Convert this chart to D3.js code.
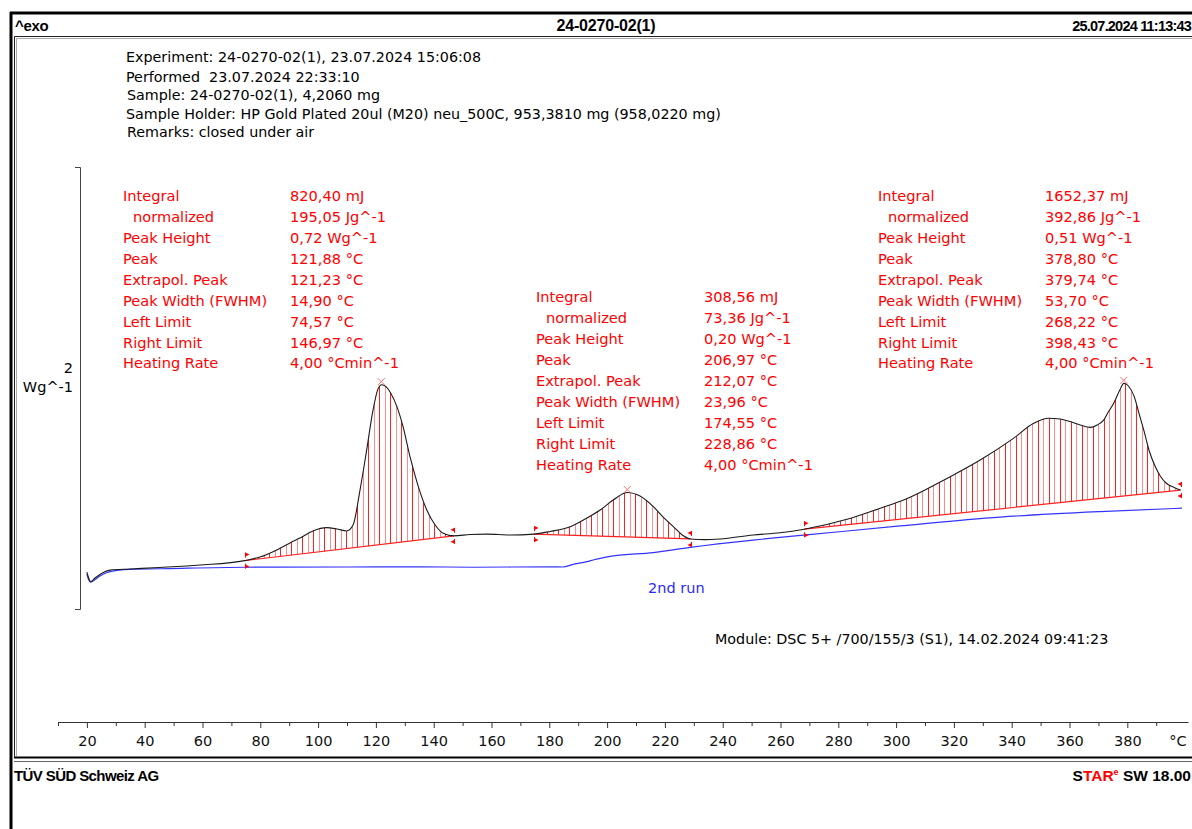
<!DOCTYPE html>
<html>
<head>
<meta charset="utf-8">
<script src="https://cdn.jsdelivr.net/npm/d3@7"></script>
<style>
  html, body { margin: 0; padding: 0; background: #fff; overflow: hidden; }
  svg { display: block; }
</style>
</head>
<body>
<svg id="chart" width="1192" height="829"></svg>
<script>
// ---------------- DATA ----------------
// 1st run (black) : temperature °C, heat flow W/g (arbitrary offset)
const tempRun1 = [20.0, 20.5, 21.3, 22.8, 24.5, 28.0, 34.9, 45.3, 59.1, 74.6, 79.9, 85.7, 90.3, 93.7, 98.2, 103.0, 106.5, 109.9, 112.1, 114.5, 116.8, 119.0, 120.7, 122.0, 123.5, 125.2, 127.2, 129.4, 131.8, 134.6, 137.6, 140.5, 143.3, 147.0, 152.6, 158.4, 166.4, 174.6, 180.3, 187.2, 192.4, 197.6, 202.1, 207.0, 211.4, 216.0, 219.4, 223.0, 226.0, 228.9, 233.9, 239.1, 250.5, 259.9, 268.2, 283.0, 294.5, 302.6, 317.6, 329.1, 340.6, 347.6, 352.7, 356.8, 360.3, 363.7, 367.2, 369.6, 371.8, 373.4, 375.3, 377.4, 378.8, 380.4, 382.4, 384.0, 386.0, 387.6, 389.7, 391.4, 393.5, 396.2, 398.4];
const dscRun1  = [0.167, 0.145, 0.124, 0.140, 0.156, 0.176, 0.181, 0.188, 0.199, 0.219, 0.235, 0.267, 0.299, 0.321, 0.353, 0.368, 0.362, 0.353, 0.380, 0.538, 0.719, 0.900, 0.995, 1.015, 1.006, 0.975, 0.918, 0.825, 0.689, 0.557, 0.448, 0.380, 0.343, 0.331, 0.337, 0.339, 0.335, 0.339, 0.351, 0.372, 0.407, 0.448, 0.493, 0.527, 0.511, 0.463, 0.416, 0.372, 0.335, 0.317, 0.314, 0.317, 0.335, 0.345, 0.361, 0.406, 0.456, 0.493, 0.591, 0.674, 0.772, 0.840, 0.863, 0.860, 0.848, 0.833, 0.822, 0.833, 0.855, 0.891, 0.931, 0.991, 1.021, 1.009, 0.961, 0.887, 0.795, 0.715, 0.644, 0.602, 0.569, 0.550, 0.538];

// 2nd run (blue)
const tempRun2 = [20.0, 20.5, 21.3, 22.8, 24.5, 28.0, 34.9, 48.7, 74.7, 111.0, 135.3, 153.6, 180.3, 184.8, 187.9, 193.0, 195.8, 197.6, 202.1, 215.9, 228.7, 250.5, 268.9, 301.4, 336.0, 370.6, 398.9];
const dscRun2  = [0.158, 0.136, 0.121, 0.133, 0.149, 0.169, 0.179, 0.183, 0.189, 0.190, 0.191, 0.189, 0.191, 0.190, 0.201, 0.214, 0.224, 0.229, 0.240, 0.255, 0.279, 0.312, 0.335, 0.376, 0.416, 0.441, 0.456];

// Peak evaluations
const peakLeftT   = [74.57, 174.55, 268.22];
const peakRightT  = [146.97, 228.86, 398.43];
const baseLeftV   = [0.219, 0.339, 0.361];
const baseRightV  = [0.331, 0.317, 0.538];
const peakT       = [121.88, 206.97, 378.80];
const peakV       = [1.015, 0.527, 1.021];

const resultLabels = ["Integral", "normalized", "Peak Height", "Peak", "Extrapol. Peak", "Peak Width (FWHM)", "Left Limit", "Right Limit", "Heating Rate"];
const resultPeak1 = ["820,40 mJ", "195,05 Jg^-1", "0,72 Wg^-1", "121,88 °C", "121,23 °C", "14,90 °C", "74,57 °C", "146,97 °C", "4,00 °Cmin^-1"];
const resultPeak2 = ["308,56 mJ", "73,36 Jg^-1", "0,20 Wg^-1", "206,97 °C", "212,07 °C", "23,96 °C", "174,55 °C", "228,86 °C", "4,00 °Cmin^-1"];
const resultPeak3 = ["1652,37 mJ", "392,86 Jg^-1", "0,51 Wg^-1", "378,80 °C", "379,74 °C", "53,70 °C", "268,22 °C", "398,43 °C", "4,00 °Cmin^-1"];

const infoLines = [
  "Experiment: 24-0270-02(1), 23.07.2024 15:06:08",
  "Performed  23.07.2024 22:33:10",
  "Sample: 24-0270-02(1), 4,2060 mg",
  "Sample Holder: HP Gold Plated 20ul (M20) neu_500C, 953,3810 mg (958,0220 mg)",
  "Remarks: closed under air"
];

const xMajorTicks = [20, 40, 60, 80, 100, 120, 140, 160, 180, 200, 220, 240, 260, 280, 300, 320, 340, 360, 380];
const xMinorTicks = [10, 30, 50, 70, 90, 110, 130, 150, 170, 190, 210, 230, 250, 270, 290, 310, 330, 350, 370, 390];
const scaleBarValue = 2;

// ---------------- DRAW ----------------
const svg = d3.select("#chart");
const FONT = "'DejaVu Sans', Verdana, sans-serif";
const BOLD = "'Liberation Sans', Arial, sans-serif";

svg.append("rect").attr("width", 1192).attr("height", 829).attr("fill", "#fff");

const x = d3.scaleLinear().domain([10, 401]).range([58, 1188]);
const y = d3.scaleLinear().domain([0, 2]).range([609, 167]);

// Frame
const frame = svg.append("g").attr("fill", "none");
frame.append("line").attr("x1", 11).attr("x2", 11).attr("y1", 12).attr("y2", 829).attr("stroke", "#000").attr("stroke-width", 3);
frame.append("line").attr("x1", 10).attr("x2", 1192).attr("y1", 13).attr("y2", 13).attr("stroke", "#000").attr("stroke-width", 3);
frame.append("path").attr("d", "M1192,36.5 H14.5 V757.5 H1192").attr("stroke", "#222").attr("stroke-width", 1);
frame.append("path").attr("d", "M1192,38.5 H16.5 V756").attr("stroke", "#aaa").attr("stroke-width", 1);
frame.append("line").attr("x1", 14).attr("x2", 1192).attr("y1", 757.5).attr("y2", 757.5).attr("stroke", "#000").attr("stroke-width", 2);
frame.append("line").attr("x1", 14).attr("x2", 1192).attr("y1", 761.5).attr("y2", 761.5).attr("stroke", "#666").attr("stroke-width", 1);

// Header
svg.append("text").attr("x", 15).attr("y", 30.5).text("^exo")
  .attr("font-family", BOLD).attr("font-weight", "bold").attr("font-size", 15).attr("letter-spacing", -0.3).attr("fill", "#000");
svg.append("text").attr("x", 606).attr("y", 30.5).attr("text-anchor", "middle").text("24-0270-02(1)")
  .attr("font-family", BOLD).attr("font-weight", "bold").attr("font-size", 16).attr("letter-spacing", -0.2).attr("fill", "#000");
svg.append("text").attr("x", 1191).attr("y", 30.5).attr("text-anchor", "end").text("25.07.2024 11:13:43")
  .attr("font-family", BOLD).attr("font-weight", "bold").attr("font-size", 14.5).attr("letter-spacing", -0.8).attr("fill", "#000");

// Info lines
const infoY = [57, 77, 95, 114, 132];
const infoX = [126, 126, 127, 126, 127];
svg.append("g").selectAll("text").data(infoLines).join("text")
  .attr("x", (d, i) => infoX[i]).attr("y", (d, i) => infoY[i]).attr("dy", "0.36em")
  .attr("font-family", FONT).attr("font-size", 14.3).attr("fill", "#000")
  .attr("xml:space", "preserve").style("white-space", "pre")
  .text(d => d);

// Scale bar (vertical)
const bar = svg.append("g").attr("stroke", "#444").attr("fill", "none");
bar.append("path").attr("d", `M75,${y(scaleBarValue) + 0.5} H80.5 V${y(0) + 0.5} H75`);
svg.append("text").attr("x", 73).attr("y", 368).attr("dy", "0.36em").attr("text-anchor", "end")
  .attr("font-family", FONT).attr("font-size", 14.5).text(String(scaleBarValue));
svg.append("text").attr("x", 73).attr("y", 387).attr("dy", "0.36em").attr("text-anchor", "end")
  .attr("font-family", FONT).attr("font-size", 14.5).text("Wg^-1");

// X axis
const axisY = 722;
const gAxis = svg.append("g").attr("transform", `translate(0,${axisY})`);
gAxis.call(d3.axisBottom(x).tickValues(xMajorTicks).tickSize(6).tickPadding(8).tickSizeOuter(0).tickFormat(d3.format("d")));
gAxis.append("g").call(d3.axisBottom(x).tickValues(xMinorTicks).tickSize(4).tickSizeOuter(0).tickFormat(""))
  .select(".domain").remove();
gAxis.selectAll(".domain").attr("stroke", "#333");
gAxis.selectAll(".tick line").attr("stroke", "#333");
gAxis.selectAll("text").attr("font-family", FONT).attr("font-size", 14.5).attr("fill", "#111");
gAxis.append("text").attr("x", 1178).attr("y", 14).attr("dy", "0.71em").attr("text-anchor", "middle")
  .attr("font-family", FONT).attr("font-size", 14.5).attr("fill", "#111").text("°C");

// Curves
const run1 = tempRun1.map((t, i) => ({ t, v: dscRun1[i] }));
const run2 = tempRun2.map((t, i) => ({ t, v: dscRun2[i] }));
const line = d3.line().x(d => x(d.t)).y(d => y(d.v)).curve(d3.curveMonotoneX);

// Hatched peak areas
const defs = svg.append("defs");
const baseAt = (k, t) => baseLeftV[k] + (baseRightV[k] - baseLeftV[k]) * (t - peakLeftT[k]) / (peakRightT[k] - peakLeftT[k]);
const hatchG = svg.append("g");
peakLeftT.forEach((L, k) => {
  const R = peakRightT[k];
  const pts = run1.filter(d => d.t >= L - 0.2 && d.t <= R + 0.2);
  const area = d3.area().x(d => x(d.t)).y0(d => y(baseAt(k, d.t))).y1(d => y(d.v)).curve(d3.curveMonotoneX);
  defs.append("clipPath").attr("id", "clipPeak" + k).append("path").attr("d", area(pts));
  const g = hatchG.append("g").attr("clip-path", `url(#clipPeak${k})`);
  const step = 1.9;
  g.selectAll("line").data(d3.range(L + step / 2, R, step)).join("line")
    .attr("x1", d => Math.round(x(d)) + 0.5).attr("x2", d => Math.round(x(d)) + 0.5)
    .attr("y1", 160).attr("y2", 620)
    .attr("stroke", (d, i) => i % 2 ? "#ff8c8c" : "#ff2020").attr("stroke-width", 1);
  // baseline
  hatchG.append("line")
    .attr("x1", x(L)).attr("y1", y(baseLeftV[k])).attr("x2", x(R)).attr("y2", y(baseRightV[k]))
    .attr("stroke", "#ff2020").attr("stroke-width", 1.2);
});

svg.append("path").datum(run2).attr("d", line).attr("fill", "none").attr("stroke", "#3333ff").attr("stroke-width", 1.2);
svg.append("path").datum(run1).attr("d", line).attr("fill", "none").attr("stroke", "#1a1a1a").attr("stroke-width", 1.1);

// Limit markers
const markG = svg.append("g").attr("fill", "#ff0000").attr("stroke", "#ff0000").attr("stroke-width", 1);
function limitMarker(t, v, dir) {
  const px = Math.round(x(t)) + 0.5, py = y(v);
  markG.append("path").attr("d", `M${px},${py - 8} V${py - 3} M${px},${py + 3} V${py + 8}`).attr("fill", "none");
  markG.append("path").attr("d", `M${px},${py - 8} l${dir * 4},2 l${-dir * 4},2 Z`).attr("stroke", "none");
  markG.append("path").attr("d", `M${px},${py + 4} l${dir * 4},2 l${-dir * 4},2 Z`).attr("stroke", "none");
}
peakLeftT.forEach((L, k) => {
  limitMarker(L, baseLeftV[k], 1);
  limitMarker(peakRightT[k], baseRightV[k], -1);
});
// Peak markers
peakT.forEach((t, k) => {
  const px = x(t), py = y(peakV[k]) - 3;
  markG.append("path").attr("d", `M${px - 3.5},${py - 3.5} L${px + 3.5},${py + 3.5} M${px - 3.5},${py + 3.5} L${px + 3.5},${py - 3.5}`)
    .attr("stroke", "#ff7070").attr("fill", "none");
});

// Result tables
const blocks = [
  { lx: 123, vx: 290, y0: 196, step: 20.9, vals: resultPeak1 },
  { lx: 536, vx: 704, y0: 297, step: 21.0, vals: resultPeak2 },
  { lx: 878, vx: 1045, y0: 196, step: 20.9, vals: resultPeak3 }
];
blocks.forEach(b => {
  const g = svg.append("g").attr("font-family", FONT).attr("font-size", 14.6).attr("fill", "#ff0000");
  g.selectAll("text.lab").data(resultLabels).join("text").attr("class", "lab")
    .attr("x", (d, i) => b.lx + (i === 1 ? 10 : 0)).attr("y", (d, i) => b.y0 + i * b.step).attr("dy", "0.36em")
    .text(d => d);
  g.selectAll("text.val").data(b.vals).join("text").attr("class", "val")
    .attr("x", b.vx).attr("y", (d, i) => b.y0 + i * b.step).attr("dy", "0.36em")
    .text(d => d);
});

// Labels
svg.append("text").attr("x", 648).attr("y", 588).attr("dy", "0.36em")
  .attr("font-family", FONT).attr("font-size", 14.5).attr("fill", "#2a2aff").text("2nd run");
svg.append("text").attr("x", 715).attr("y", 639).attr("dy", "0.36em")
  .attr("font-family", FONT).attr("font-size", 14.3).attr("fill", "#000").text("Module: DSC 5+ /700/155/3 (S1), 14.02.2024 09:41:23");

// Footer
svg.append("text").attr("x", 14).attr("y", 780.5).text("TÜV SÜD Schweiz AG")
  .attr("font-family", BOLD).attr("font-weight", "bold").attr("font-size", 15).attr("letter-spacing", -0.6).attr("fill", "#000");
const star = svg.append("text").attr("x", 1191).attr("y", 780.5).attr("text-anchor", "end")
  .attr("font-family", BOLD).attr("font-weight", "bold").attr("font-size", 15.5).attr("fill", "#000");
star.append("tspan").text("S");
star.append("tspan").attr("fill", "#ff0000").text("TAR");
star.append("tspan").attr("fill", "#ff0000").attr("font-size", 9).attr("dy", -6).text("e");
star.append("tspan").attr("dy", 6).text(" SW 18.00");
</script>
</body>
</html>
